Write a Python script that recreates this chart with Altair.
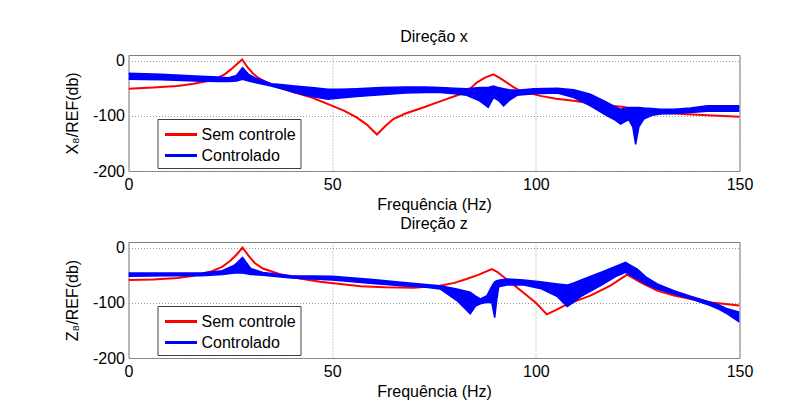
import altair as alt
import pandas as pd

# ---------------- data ----------------
# Direção x — Sem controle
fx_red = [0, 6, 12, 16, 19.5, 22, 23.6, 25, 26.1, 27.9, 29.3, 30.5, 31.8, 33.5, 35.1, 38,
          40.8, 45, 49, 53, 56, 58.5, 61, 63, 65, 68, 72, 76.5, 81.4, 84, 85.5, 87.5,
          89.6, 91, 92.9, 94.5, 96.2, 101.1, 105, 109.3, 113, 117.5, 121.6, 123.5,
          125.7, 129.5, 133.9, 142.1, 150]
vx_red = [-51, -49, -46, -42, -37, -31, -25, -17, -10, 2, -13, -23, -31, -38, -43, -51,
          -58, -67, -79, -91, -103, -116, -134, -119, -106, -96, -86, -74, -61, -50, -40,
          -31, -25, -31, -40, -48, -55, -64, -69, -73, -77, -81, -84, -87, -92, -94, -96,
          -99, -102]
# Direção x — Controlado (band of curves: lower / upper envelope)
fx_blue = [0, 8, 16.4, 22, 24.6, 26.5, 28, 29.5, 31, 33, 35, 38, 40.8, 45, 49, 52, 56, 62,
           68, 73, 76.5, 80, 83, 86.2, 88.3, 89.6, 90.8, 92.1, 93.5, 95.4, 99.5, 105.3,
           109.3, 113.4, 117.5, 119.5, 120.8, 122.8, 123.8, 124.5, 125.3, 126.5, 128.5,
           130.6, 133.9, 138, 142.1, 146, 150]
lox_blue = [-34, -35, -37, -38, -38, -37, -34, -37, -40, -43, -46, -52, -58, -65, -70,
            -68, -65, -62, -59, -58, -58, -60, -63, -73, -85, -67, -72, -82, -72, -63,
            -60, -59, -67, -82, -100, -108, -115, -107, -120, -152, -120, -106, -99, -97,
            -96, -94, -92, -92, -92]
hix_blue = [-23, -25, -28, -30, -31, -27, -13, -25, -31, -36, -42, -44, -46, -49, -52,
            -52, -51, -49, -48, -48, -49, -50, -51, -49, -49, -46, -49, -51, -53, -54,
            -51, -50, -53, -61, -76, -84, -88, -85, -85, -85, -85, -86, -87, -88, -88,
            -86, -82, -82, -82]

# Direção z — Sem controle
fz_red = [0, 6, 12, 16, 20, 23, 25, 26.5, 28, 29.5, 31, 33, 37, 42, 47, 52, 57, 63, 70,
          76.5, 80, 83, 86, 89.2, 90.5, 95, 100, 102.7, 105, 107.6, 113.4, 118.3, 121,
          122.4, 123.8, 125.7, 129.8, 133.9, 138, 142.1, 146, 150]
vz_red = [-59, -58, -55, -51, -44, -35, -24, -13, 0, -15, -28, -38, -48, -56, -62, -66,
          -70, -72, -73, -69, -64, -57, -49, -39, -44, -70, -100, -121, -113, -103, -87,
          -69, -56, -49, -55, -63, -78, -87, -93, -99, -102, -105]
# Direção z — Controlado
fz_blue = [0, 10, 18, 23, 26, 28, 30, 33, 40, 50, 60, 67, 73, 76.5, 80.6, 83.9, 85.2,
           86.4, 88, 89.2, 89.9, 90.4, 90.9, 92.9, 97, 101.1, 105.3, 107.7, 109.3, 111,
           115.9, 120, 122, 124.9, 127, 129.8, 133.9, 138, 142.1, 145, 147, 150]
loz_blue = [-52, -51, -51, -49, -46, -46, -49, -50, -55, -59, -65, -69, -72, -75, -96,
            -120, -106, -102, -99, -100, -127, -95, -71, -68, -68, -74, -89, -107, -99,
            -89, -69, -51, -45, -57, -66, -75, -84, -93, -103, -112, -120, -135]
hiz_blue = [-46, -46, -46, -42, -32, -18, -38, -45, -51, -52, -58, -63, -67, -69, -75,
            -81, -88, -93, -87, -70, -62, -60, -59, -57, -59, -62, -66, -68, -64, -59,
            -45, -33, -27, -39, -53, -66, -78, -88, -97, -104, -111, -117]

series = ["Sem controle", "Controlado"]
colors = ["#ff0000", "#0000ff"]
x_ticks = [0, 50, 100, 150]
y_ticks = [-200, -100, 0]

FONT = "Liberation Sans"


def panel(title, ytitle, f_red, v_red, f_blue, lo, hi):
    red = pd.DataFrame({"f": f_red, "v": v_red, "serie": series[0], "part": "r"})
    blue = pd.concat([
        pd.DataFrame({"f": f_blue, "v": lo, "serie": series[1], "part": "lo"}),
        pd.DataFrame({"f": f_blue, "v": hi, "serie": series[1], "part": "hi"}),
    ])
    band = pd.DataFrame({"f": f_blue, "v": lo, "v2": hi})

    x = alt.X("f:Q", scale=alt.Scale(domain=[0, 150], nice=False, zero=False),
              axis=alt.Axis(values=x_ticks, title="Frequência (Hz)",
                            labelExpr="'' + datum.value"))
    y = alt.Y("v:Q", scale=alt.Scale(domain=[-200, 10], nice=False, zero=False),
              axis=alt.Axis(values=y_ticks, title=ytitle,
                            labelExpr="'' + datum.value"))
    color = alt.Color(
        "serie:N",
        scale=alt.Scale(domain=series, range=colors),
        legend=alt.Legend(
            title=None, orient="none", legendX=29, legendY=64,
            symbolType="M-1.6,0H1.6", symbolStrokeWidth=3, symbolSize=400,
            labelFontSize=16, labelFont=FONT, labelColor="black",
            strokeColor="#404040", fillColor="white", padding=4,
            rowPadding=1, labelOffset=9, symbolOffset=8,
        ),
    )

    red_line = alt.Chart(red).mark_line(strokeWidth=2, clip=True).encode(
        x=x, y=y, color=color, detail="part:N")
    area = alt.Chart(band).mark_area(color="#0000ff", opacity=1, clip=True).encode(
        x=x, y=y, y2="v2:Q")
    blue_line = alt.Chart(blue).mark_line(strokeWidth=1.5, clip=True).encode(
        x=x, y=y, color=color, detail="part:N")

    return alt.layer(red_line, area, blue_line).properties(
        width=611, height=116,
        title=alt.TitleParams(title, fontSize=16, font=FONT, fontWeight="normal",
                              color="black", offset=8),
    )


top = panel("Direção x", "X₈/REF(db)", fx_red, vx_red, fx_blue, lox_blue, hix_blue)
bottom = panel("Direção z", "Z₈/REF(db)", fz_red, vz_red, fz_blue, loz_blue, hiz_blue)

chart = alt.vconcat(top, bottom, spacing=2).resolve_scale(
    color="independent").resolve_legend(color="independent").properties(
    padding={"left": 63.5, "top": 28, "right": 10, "bottom": 5},
    background="white",
).configure_axis(
    labelFont=FONT, titleFont=FONT, labelFontSize=16, titleFontSize=16,
    titleFontWeight="normal", labelColor="black", titleColor="black",
    grid=True, gridColor="#9a9a9a", gridDash=[1, 2], gridWidth=1,
    domain=False, ticks=False, labelPadding=5,
).configure_axisY(titlePadding=12, labelPadding=4).configure_axisX(
    titlePadding=4, labelFlush=False
).configure_view(stroke="#7f7f7f", strokeWidth=1)

chart.save("out.html", embed_options={"renderer": "svg", "actions": False})
